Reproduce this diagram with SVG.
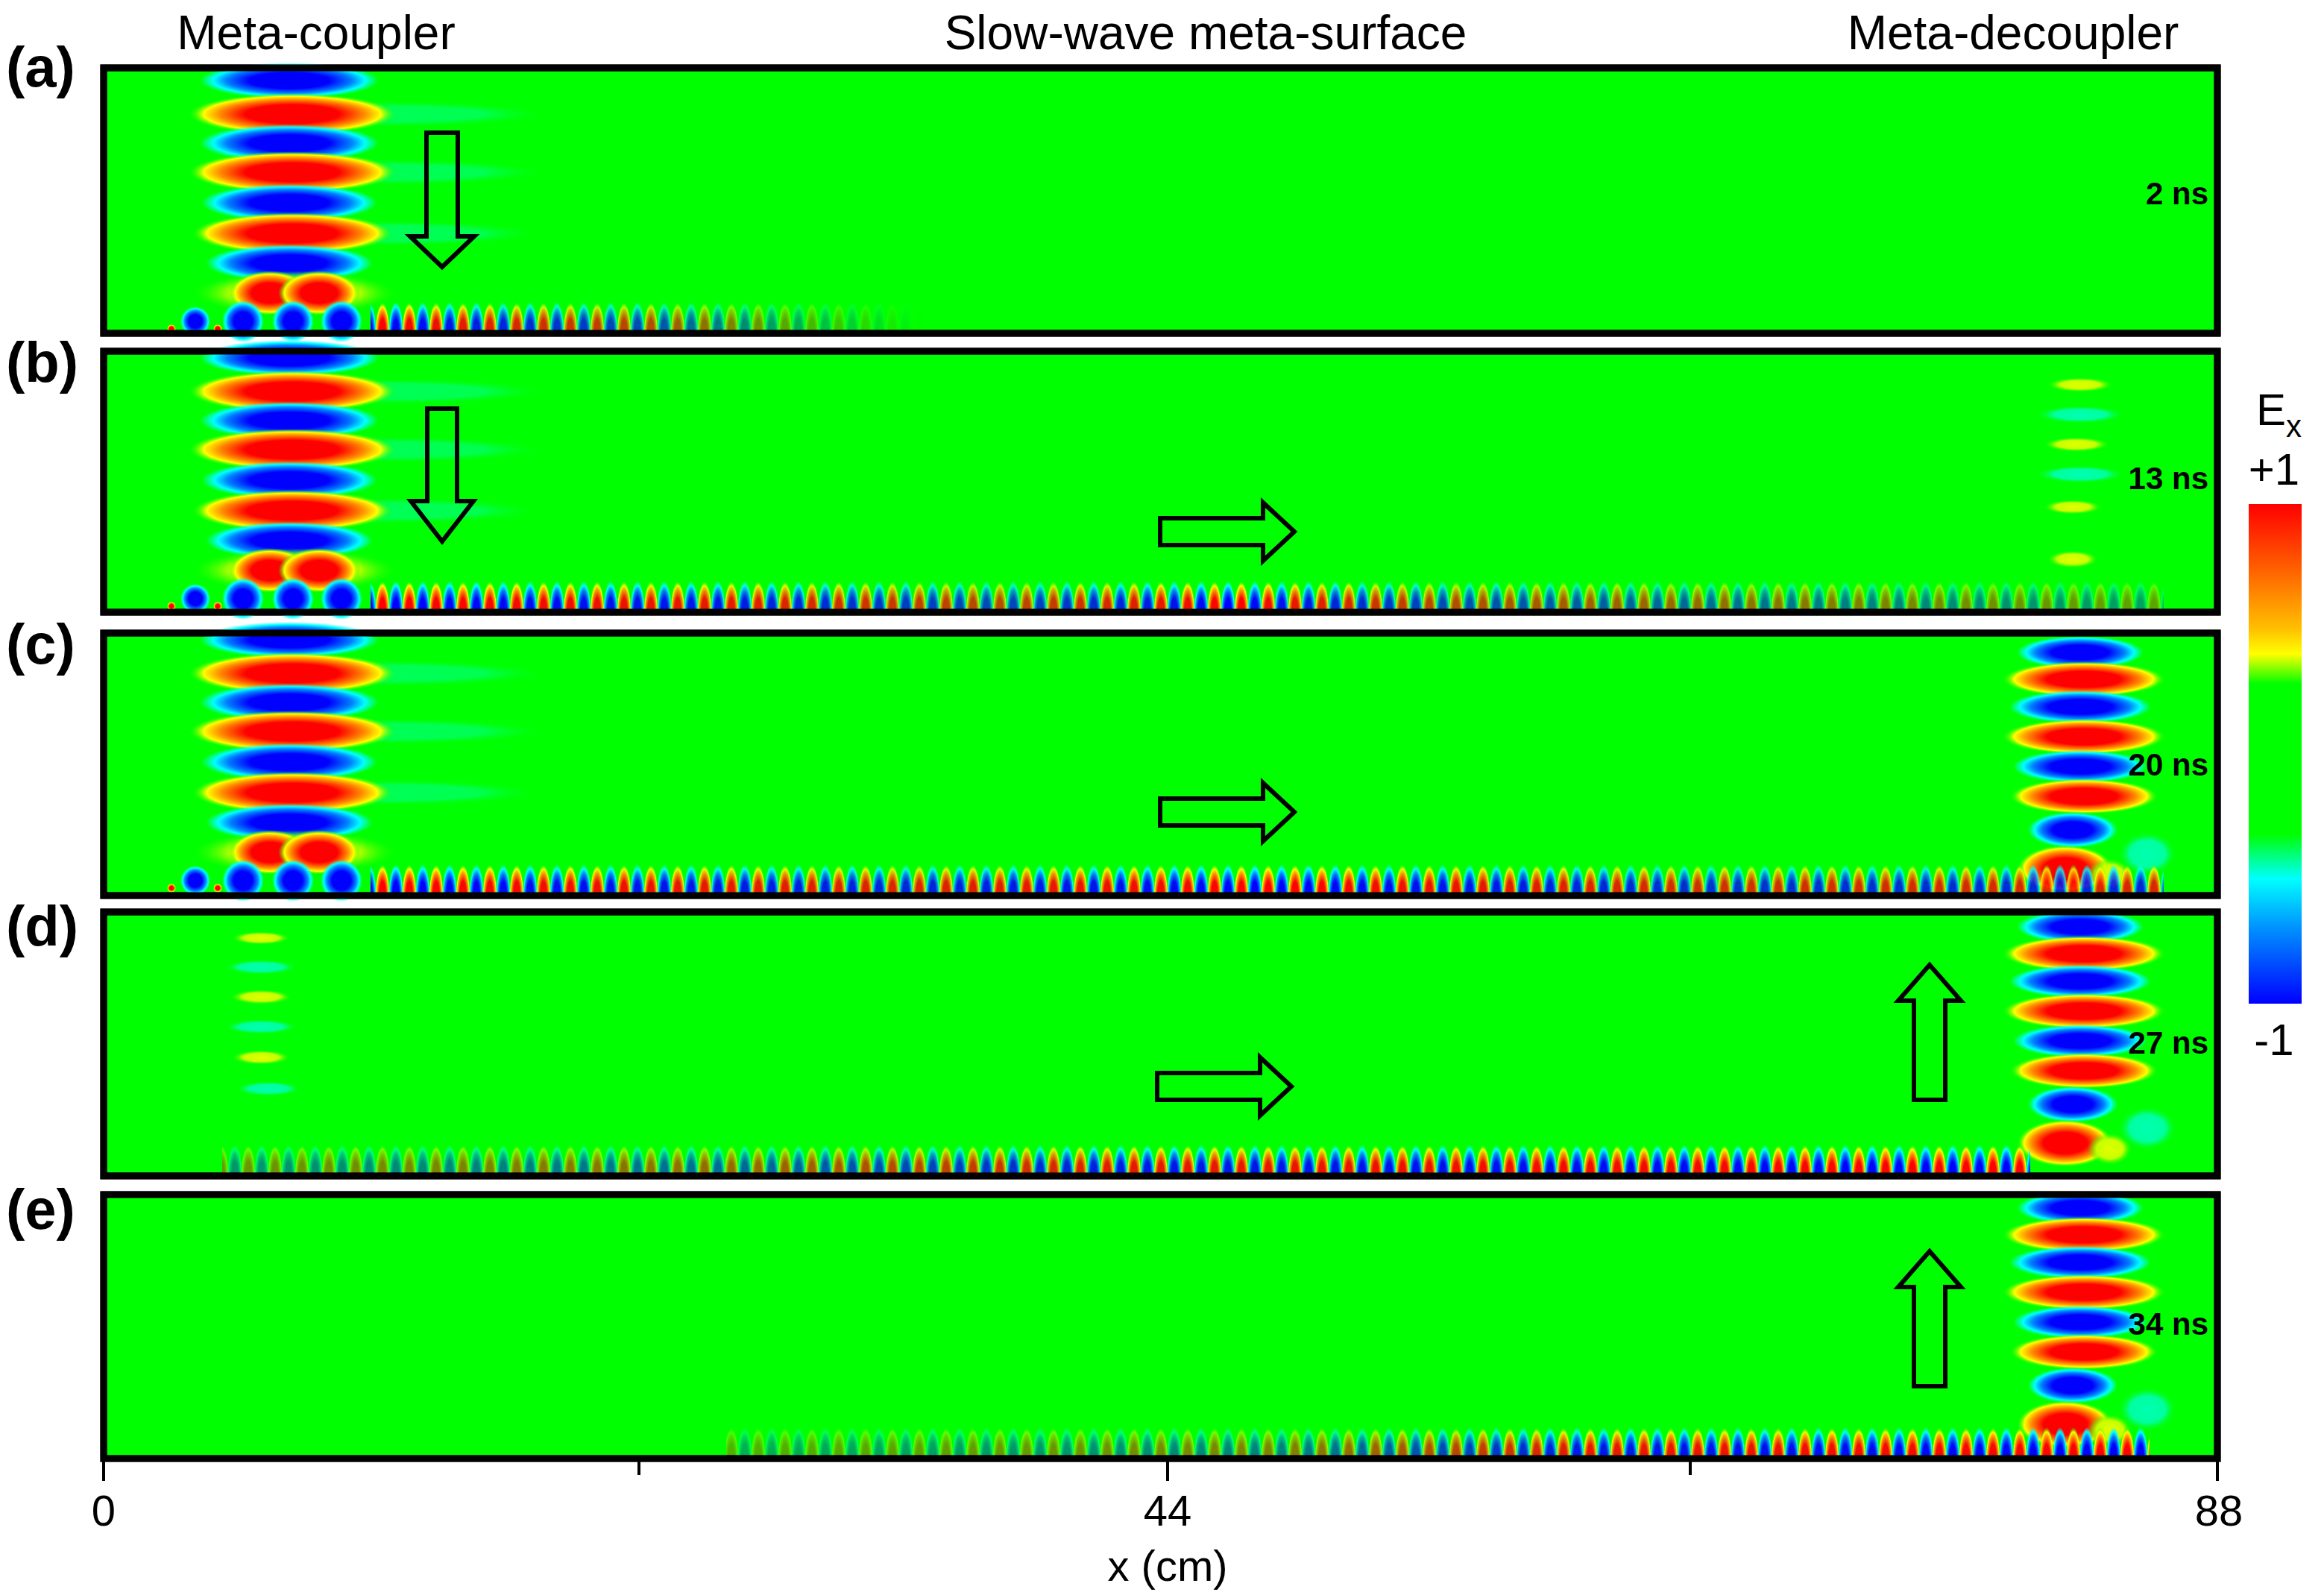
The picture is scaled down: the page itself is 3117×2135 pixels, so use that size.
<svg xmlns="http://www.w3.org/2000/svg" width="3117" height="2135" viewBox="0 0 3117 2135">
<style>
.frame{fill:#00ff00;stroke:#000;stroke-width:9}
.arrow{fill:none;stroke:#000;stroke-width:6;stroke-linejoin:miter}
.lbl{font-family:"Liberation Sans",Arial,sans-serif;font-weight:bold;font-size:76px}
.tl{font-family:"Liberation Sans",Arial,sans-serif;font-weight:bold;font-size:42px;text-anchor:end}
.tt{font-family:"Liberation Sans",Arial,sans-serif;font-size:64px;text-anchor:middle}
.ax{font-family:"Liberation Sans",Arial,sans-serif;font-size:58px;text-anchor:middle}
</style>
<defs>
<radialGradient id="rg"><stop offset="0" stop-color="#f00"/><stop offset="0.45" stop-color="#f00"/><stop offset="0.7" stop-color="#ff9000"/><stop offset="0.85" stop-color="#ffff00"/><stop offset="1" stop-color="#00ff00" stop-opacity="0"/></radialGradient>
<radialGradient id="bg"><stop offset="0" stop-color="#00f"/><stop offset="0.45" stop-color="#00f"/><stop offset="0.7" stop-color="#0080ff"/><stop offset="0.85" stop-color="#00ffff"/><stop offset="1" stop-color="#00ffff" stop-opacity="0"/></radialGradient>
<radialGradient id="yg"><stop offset="0" stop-color="#e0ff00"/><stop offset="0.6" stop-color="#c8ff00"/><stop offset="1" stop-color="#00ff00" stop-opacity="0"/></radialGradient>
<radialGradient id="cg"><stop offset="0" stop-color="#00ffb0"/><stop offset="0.6" stop-color="#00ffa0"/><stop offset="1" stop-color="#00ff00" stop-opacity="0"/></radialGradient>
<linearGradient id="cbar" x1="0" y1="0" x2="0" y2="1"><stop offset="0" stop-color="#f00"/><stop offset="0.13" stop-color="#ff6000"/><stop offset="0.25" stop-color="#ffc000"/><stop offset="0.3" stop-color="#ffff00"/><stop offset="0.36" stop-color="#00ff00"/><stop offset="0.66" stop-color="#00ff00"/><stop offset="0.75" stop-color="#00ffff"/><stop offset="0.85" stop-color="#0090ff"/><stop offset="1" stop-color="#0000ff"/></linearGradient>
<pattern id="wave" patternUnits="userSpaceOnUse" x="0" y="0" width="36" height="46">
<ellipse cx="9" cy="46" rx="10" ry="42" fill="url(#rg)"/>
<ellipse cx="27" cy="46" rx="10" ry="42" fill="url(#bg)"/>
</pattern>
<linearGradient id="mA" x1="0" x2="1"><stop offset="0" stop-color="#fff"/><stop offset="0.5" stop-color="#fff" stop-opacity="0.7"/><stop offset="1" stop-color="#fff" stop-opacity="0"/></linearGradient>
<linearGradient id="mB" x1="0" x2="1"><stop offset="0" stop-color="#fff"/><stop offset="0.2" stop-color="#fff" stop-opacity="0.9"/><stop offset="0.35" stop-color="#fff" stop-opacity="0.7"/><stop offset="0.48" stop-color="#fff"/><stop offset="0.6" stop-color="#fff" stop-opacity="0.7"/><stop offset="1" stop-color="#fff" stop-opacity="0.35"/></linearGradient>
<linearGradient id="mC" x1="0" x2="1"><stop offset="0" stop-color="#fff"/><stop offset="0.3" stop-color="#fff" stop-opacity="0.85"/><stop offset="0.5" stop-color="#fff"/><stop offset="0.75" stop-color="#fff" stop-opacity="0.8"/><stop offset="1" stop-color="#fff" stop-opacity="0.85"/></linearGradient>
<linearGradient id="mD" x1="0" x2="1"><stop offset="0" stop-color="#fff" stop-opacity="0.4"/><stop offset="0.3" stop-color="#fff" stop-opacity="0.6"/><stop offset="0.5" stop-color="#fff" stop-opacity="0.9"/><stop offset="1" stop-color="#fff"/></linearGradient>
<linearGradient id="mE" x1="0" x2="1"><stop offset="0" stop-color="#fff" stop-opacity="0.3"/><stop offset="0.4" stop-color="#fff" stop-opacity="0.5"/><stop offset="0.6" stop-color="#fff" stop-opacity="0.9"/><stop offset="1" stop-color="#fff"/></linearGradient>
<mask id="maskA"><rect x="497" y="-46" width="740" height="46" fill="url(#mA)"/></mask>
<mask id="maskB"><rect x="497" y="-46" width="2405" height="46" fill="url(#mB)"/></mask>
<mask id="maskC"><rect x="497" y="-46" width="2405" height="46" fill="url(#mC)"/></mask>
<mask id="maskD"><rect x="298" y="-46" width="2425" height="46" fill="url(#mD)"/></mask>
<mask id="maskE"><rect x="974" y="-46" width="1909" height="46" fill="url(#mE)"/></mask>
<g id="coupler">
<ellipse cx="520" cy="62" rx="220" ry="18" fill="url(#cg)" opacity="0.5"/>
<ellipse cx="520" cy="140" rx="220" ry="18" fill="url(#cg)" opacity="0.5"/>
<ellipse cx="520" cy="222" rx="210" ry="18" fill="url(#cg)" opacity="0.5"/>
<ellipse cx="388" cy="17" rx="120" ry="24" fill="url(#bg)"/>
<ellipse cx="392" cy="62" rx="140" ry="28" fill="url(#rg)"/>
<ellipse cx="388" cy="101" rx="120" ry="25" fill="url(#bg)"/>
<ellipse cx="392" cy="140" rx="140" ry="28" fill="url(#rg)"/>
<ellipse cx="388" cy="181" rx="118" ry="25" fill="url(#bg)"/>
<ellipse cx="392" cy="222" rx="135" ry="28" fill="url(#rg)"/>
<ellipse cx="388" cy="262" rx="112" ry="25" fill="url(#bg)"/>
<ellipse cx="395" cy="302" rx="140" ry="30" fill="url(#yg)"/>
<ellipse cx="362" cy="302" rx="55" ry="30" fill="url(#rg)"/>
<ellipse cx="428" cy="302" rx="55" ry="30" fill="url(#rg)"/>
<circle cx="262" cy="340" r="20" fill="url(#bg)"/>
<circle cx="326" cy="340" r="28" fill="url(#bg)"/>
<circle cx="393" cy="340" r="28" fill="url(#bg)"/>
<circle cx="458" cy="340" r="28" fill="url(#bg)"/>
<circle cx="230" cy="350" r="6" fill="url(#rg)"/>
<circle cx="292" cy="350" r="6" fill="url(#rg)"/>
</g>
<g id="decoupler">
<ellipse cx="2790" cy="20" rx="85" ry="22" fill="url(#bg)"/>
<ellipse cx="2795" cy="56" rx="110" ry="24" fill="url(#rg)"/>
<ellipse cx="2790" cy="93" rx="95" ry="22" fill="url(#bg)"/>
<ellipse cx="2795" cy="133" rx="110" ry="24" fill="url(#rg)"/>
<ellipse cx="2790" cy="173" rx="90" ry="22" fill="url(#bg)"/>
<ellipse cx="2795" cy="213" rx="100" ry="24" fill="url(#rg)"/>
<ellipse cx="2780" cy="258" rx="60" ry="24" fill="url(#bg)"/>
<ellipse cx="2770" cy="310" rx="65" ry="32" fill="url(#rg)"/>
<ellipse cx="2830" cy="318" rx="30" ry="22" fill="url(#yg)"/>
<ellipse cx="2880" cy="290" rx="40" ry="30" fill="url(#cg)"/>
</g>
</defs>

<g id="panel-a">
<rect class="frame" x="139" y="91" width="2835" height="356"/>
<use href="#coupler" y="91"/>
<g transform="translate(0,447)"><rect x="497" y="-46" width="740" height="46" fill="url(#wave)" mask="url(#maskA)"/></g>
<polygon class="arrow" points="572,178 614,178 614,317 636,317 593,358 550,317 572,317"/>
<text class="tl" x="2962" y="274">2 ns</text>
<rect x="139" y="91" width="2835" height="356" fill="none" stroke="#000" stroke-width="9"/>
</g>

<g id="panel-b">
<rect class="frame" x="139" y="471" width="2835" height="350"/>
<use href="#coupler" y="463"/>
<ellipse cx="2790" cy="516" rx="45" ry="10" fill="url(#yg)"/>
<ellipse cx="2790" cy="556" rx="60" ry="12" fill="url(#cg)"/>
<ellipse cx="2785" cy="596" rx="45" ry="10" fill="url(#yg)"/>
<ellipse cx="2790" cy="636" rx="60" ry="12" fill="url(#cg)"/>
<ellipse cx="2780" cy="680" rx="40" ry="10" fill="url(#yg)"/>
<ellipse cx="2780" cy="750" rx="35" ry="12" fill="url(#yg)"/>
<g transform="translate(0,821)"><rect x="497" y="-46" width="2405" height="46" fill="url(#wave)" mask="url(#maskB)"/></g>
<polygon class="arrow" points="573,548 613,548 613,672 635,672 593,726 551,672 573,672"/>
<polygon class="arrow" points="1556,695 1694,695 1694,674 1736,713 1694,752 1694,731 1556,731"/>
<text class="tl" x="2962" y="656">13 ns</text>
<rect x="139" y="471" width="2835" height="350" fill="none" stroke="#000" stroke-width="9"/>
</g>

<g id="panel-c">
<rect class="frame" x="139" y="849" width="2835" height="352"/>
<use href="#coupler" y="841"/>
<use href="#decoupler" y="855"/>
<g transform="translate(0,1201)"><rect x="497" y="-46" width="2405" height="46" fill="url(#wave)" mask="url(#maskC)"/></g>
<polygon class="arrow" points="1556,1071 1694,1071 1694,1050 1736,1089 1694,1128 1694,1107 1556,1107"/>
<text class="tl" x="2962" y="1040">20 ns</text>
<rect x="139" y="849" width="2835" height="352" fill="none" stroke="#000" stroke-width="9"/>
</g>

<g id="panel-d">
<rect class="frame" x="139" y="1223" width="2835" height="354"/>
<ellipse cx="350" cy="1258" rx="40" ry="9" fill="url(#yg)"/>
<ellipse cx="350" cy="1297" rx="50" ry="10" fill="url(#cg)"/>
<ellipse cx="350" cy="1337" rx="42" ry="10" fill="url(#yg)"/>
<ellipse cx="350" cy="1377" rx="50" ry="10" fill="url(#cg)"/>
<ellipse cx="350" cy="1418" rx="40" ry="10" fill="url(#yg)"/>
<ellipse cx="360" cy="1460" rx="45" ry="10" fill="url(#cg)"/>
<use href="#decoupler" y="1223"/>
<g transform="translate(0,1577)"><rect x="298" y="-46" width="2425" height="46" fill="url(#wave)" mask="url(#maskD)"/></g>
<polygon class="arrow" points="1552,1439 1690,1439 1690,1418 1732,1457 1690,1496 1690,1475 1552,1475"/>
<polygon class="arrow" points="2567,1475 2609,1475 2609,1342 2630,1342 2588,1294 2546,1342 2567,1342"/>
<text class="tl" x="2962" y="1413">27 ns</text>
<rect x="139" y="1223" width="2835" height="354" fill="none" stroke="#000" stroke-width="9"/>
</g>

<g id="panel-e">
<rect class="frame" x="139" y="1602" width="2835" height="354"/>
<use href="#decoupler" y="1600"/>
<g transform="translate(0,1956)"><rect x="974" y="-46" width="1909" height="46" fill="url(#wave)" mask="url(#maskE)"/></g>
<polygon class="arrow" points="2567,1859 2609,1859 2609,1726 2630,1726 2588,1678 2546,1726 2567,1726"/>
<text class="tl" x="2962" y="1790">34 ns</text>
<rect x="139" y="1602" width="2835" height="354" fill="none" stroke="#000" stroke-width="9"/>
</g>

<g id="labels">
<text class="lbl" x="8" y="116">(a)</text>
<text class="lbl" x="8" y="512">(b)</text>
<text class="lbl" x="8" y="890">(c)</text>
<text class="lbl" x="8" y="1268">(d)</text>
<text class="lbl" x="8" y="1648">(e)</text>
<text class="tt" x="424" y="66">Meta-coupler</text>
<text class="tt" x="1617" y="66">Slow-wave meta-surface</text>
<text class="tt" x="2700" y="66">Meta-decoupler</text>
</g>

<g id="colorbar">
<rect x="3016" y="676" width="71" height="670" fill="url(#cbar)"/>
<text x="3026" y="570" font-family="Liberation Sans, Arial, sans-serif" font-size="60">E<tspan font-size="42" dy="16">x</tspan></text>
<text x="3050" y="650" font-family="Liberation Sans, Arial, sans-serif" font-size="60" text-anchor="middle">+1</text>
<text x="3050" y="1415" font-family="Liberation Sans, Arial, sans-serif" font-size="60" text-anchor="middle">-1</text>
</g>

<g id="axis" stroke="#000" stroke-width="4">
<line x1="139" y1="1958" x2="139" y2="1986"/>
<line x1="857" y1="1958" x2="857" y2="1978"/>
<line x1="1566" y1="1958" x2="1566" y2="1986"/>
<line x1="2267" y1="1958" x2="2267" y2="1978"/>
<line x1="2974" y1="1958" x2="2974" y2="1986"/>
</g>
<g id="axis-labels">
<text class="ax" x="139" y="2046">0</text>
<text class="ax" x="1566" y="2046">44</text>
<text class="ax" x="2976" y="2046">88</text>
<text class="ax" x="1566" y="2120" font-size="56">x (cm)</text>
</g>
</svg>
